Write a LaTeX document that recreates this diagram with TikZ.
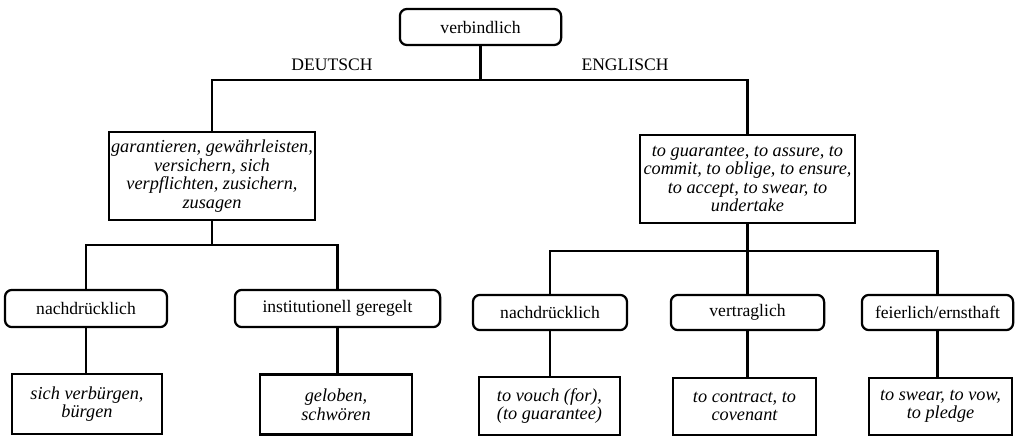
\documentclass[tikz,border=0pt]{standalone}
\usepackage{fontspec}
\setmainfont{Liberation Serif}
\usetikzlibrary{positioning}

\begin{document}
\begin{tikzpicture}[x=0.025cm, y=-0.025cm,
    every node/.style={font=\fontsize{12.5}{13.2}\selectfont, align=center, inner sep=1pt},
    concept/.style={draw, line width=1.6pt, rounded corners=5pt},
    words/.style={draw, line width=1.6pt, font=\fontsize{13}{13.2}\selectfont\itshape},
    link/.style={line width=1.6pt}]
  \useasboundingbox (0,0) rectangle (1029,437);

  % root and languages
  \node [concept, minimum width=4.03cm, minimum height=0.9cm] (top) at (480.5,27) {verbindlich};
  \node (de-label) at (332,65) {DEUTSCH};
  \node (en-label) at (625,65) {ENGLISCH};

  \node [words, minimum width=5.15cm, minimum height=2.2cm] (de) at (212,176)
    {garantieren, gewährleisten,\\ versichern, sich\\ verpflichten, zusichern,\\ zusagen};
  \node [words, minimum width=5.38cm, minimum height=2.2cm] (en) at (747.5,179)
    {to guarantee, to assure, to\\ commit, to oblige, to ensure,\\ to accept, to swear, to\\ undertake};

  % second level
  \node [concept, minimum width=4.05cm, minimum height=0.93cm] (de-1) at (86,308.5) {nachdrücklich};
  \node [concept, minimum width=5.13cm, minimum height=0.93cm] (de-2) at (337.5,308.5) {institutionell geregelt};
  \node [concept, minimum width=3.85cm, minimum height=0.88cm] (en-1) at (550,312.5) {nachdrücklich};
  \node [concept, minimum width=3.83cm, minimum height=0.88cm] (en-2) at (747.5,312.5) {vertraglich};
  \node [concept, minimum width=3.78cm, minimum height=0.88cm] (en-3) at (937.5,312.5) {feierlich/ernsthaft};

  \node [words, minimum width=3.75cm, minimum height=1.5cm] (de-1-w) at (87,404) {sich verbürgen,\\ bürgen};
  \node [words, minimum width=3.8cm, minimum height=1.5cm] (de-2-w) at (336,404.5) {geloben,\\ schwören};
  \node [words, minimum width=3.53cm, minimum height=1.45cm] (en-1-w) at (549.5,406) {to vouch (for),\\ (to guarantee)};
  \node [words, minimum width=3.58cm, minimum height=1.43cm] (en-2-w) at (744.5,406.5) {to contract, to\\ covenant};
  \node [words, minimum width=3.58cm, minimum height=1.43cm] (en-3-w) at (940.5,406.5) {to swear, to vow,\\ to pledge};

  % tree lines
  \coordinate (split) at (480.5,80);
  \coordinate (de-split) at (212,245);
  \coordinate (en-split) at (747.5,251);
  \draw [link] (top.south) -- (split);
  \draw [link] (de.north) |- (split) -| (en.north);
  \draw [link] (de.south) -- (de-split);
  \draw [link] (de-1.north) |- (de-split) -| (de-2.north);
  \draw [link] (en.south) -- (en-split);
  \draw [link] (en-1.north) |- (en-split) -| (en-3.north);
  \draw [link] (en-split) -- (en-2.north);
  \foreach \n in {de-1, de-2, en-1, en-2, en-3}
    \draw [link] (\n.south) -- (\n.south |- \n-w.north);
\end{tikzpicture}
\end{document}
